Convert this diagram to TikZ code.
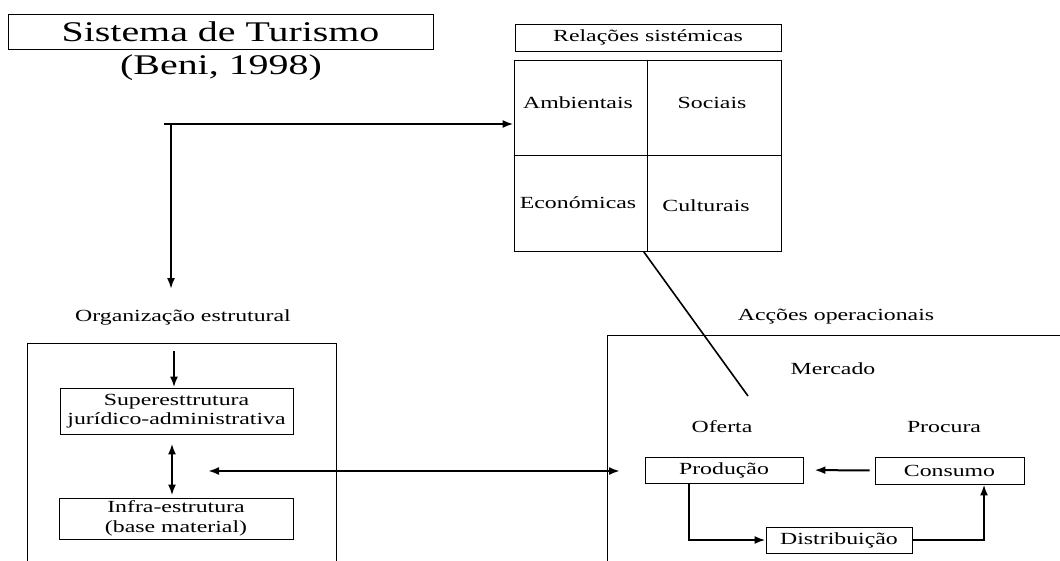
\documentclass[tikz,border=0pt]{standalone}
\usepackage{fontspec}
\setmainfont[FakeStretch=1.4]{Liberation Serif}
\usetikzlibrary{arrows.meta}

\tikzset{
  box/.style={draw, line width=0.9pt, inner sep=0pt, align=center, font=\fontsize{17}{19.5}\selectfont},
  lbl/.style={inner sep=0pt, align=center, font=\fontsize{17}{19.5}\selectfont},
  big/.style={font=\fontsize{28.5}{30}\selectfont},
  arr/.style={line width=2pt, -{Latex[length=11pt,width=8pt]}},
  dblarr/.style={line width=2pt, {Latex[length=11pt,width=8pt]}-{Latex[length=11pt,width=8pt]}},
  frame/.style={line width=0.9pt}
}

\begin{document}
\begin{tikzpicture}[x=1pt, y=-1pt]
\useasboundingbox (0,0) rectangle (1060,560);

% Title
\node[box, big, minimum width=425pt, minimum height=35pt] (title) at (220.5,31.5) {Sistema de Turismo};
\node[lbl, big] (beni) at (221,68) {(Beni, 1998)};

% Relacoes sistemicas: header and 2x2 grid
\node[box, minimum width=266pt, minimum height=27pt] (rel) at (648,37.5) {Relações sistémicas};
\node[box, minimum width=267pt, minimum height=191pt] (grid) at (647.5,155.5) {};
\draw[frame] (grid.north) -- (grid.south);
\draw[frame] (grid.west) -- (grid.east);
\node[lbl] (amb) at (578,103) {Ambientais};
\node[lbl] (soc) at (712,103) {Sociais};
\node[lbl] (eco) at (578,203) {Económicas};
\node[lbl] (cul) at (706,206) {Culturais};

% Organizacao estrutural
\node[lbl] (org) at (183,317) {Organização estrutural};
\draw[frame] (27,565) -- (27,343) -- (336,343) -- (336,565);
\node[box, minimum width=233pt, minimum height=46pt] (sup) at (176.5,411) {Superesttrutura\\jurídico-administrativa};
\node[box, minimum width=234pt, minimum height=41pt] (infra) at (176,518.5) {Infra-estrutura\\(base material)};

% Accoes operacionais
\node[lbl] (acc) at (836,317) {Acções operacionais};
\draw[frame] (607,565) -- (607,335) -- (1062,335);
\node[lbl] (merc) at (833,369) {Mercado};
\node[lbl] (ofe) at (722,427) {Oferta};
\node[lbl] (pro) at (944,427) {Procura};
\node[box, minimum width=158pt, minimum height=26pt] (prod) at (724,470) {Produção};
\node[box, minimum width=149pt, minimum height=27pt] (cons) at (949.5,470.5) {Consumo};
\node[box, minimum width=146pt, minimum height=26pt] (dist) at (839,540) {Distribuição};

% Connectors
\coordinate (hub) at (171,124);
\draw[arr] ([xshift=-7pt]hub) -- (hub -| grid.west);
\draw[arr, shorten >=20pt] (hub) -- (hub |- org.north);

\coordinate (orgin) at (174,351);
\draw[arr] (orgin) -- (orgin |- sup.north);
\coordinate (updn) at ([xshift=-4.5pt]sup.south);
\draw[dblarr, shorten <=9pt, shorten >=2pt] (updn) -- (updn |- infra.north);

\coordinate (lnkl) at (208,471);
\coordinate (lnkr) at (620,471);
\draw[dblarr] (lnkl) -- (lnkr);

\coordinate (mkt) at (748,396);
\draw[line width=1.6pt] ([xshift=-4pt]grid.south) -- (mkt);

\draw[arr, shorten <=5pt, shorten >=11pt] (cons.west) -- (prod.east);
\draw[arr] ([xshift=-35pt]prod.south) |- (dist.west);
\draw[arr] (dist.east) -| ([xshift=34.5pt]cons.south);
\end{tikzpicture}
\end{document}
